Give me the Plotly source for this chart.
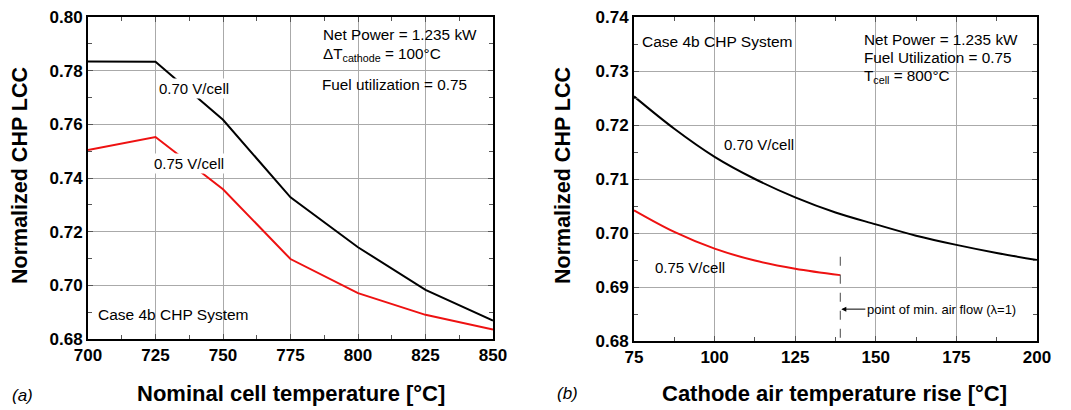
import plotly.graph_objects as go

# Panel (a)
temp_a = [700, 725, 750, 775, 800, 825, 850]
lcc_070_a = [0.7834, 0.7833, 0.7617, 0.7328, 0.7142, 0.6983, 0.6869]
lcc_075_a = [0.7504, 0.7553, 0.7358, 0.7098, 0.6971, 0.6890, 0.6835]

# Panel (b)
dt_b_070 = [75, 87.5, 100, 112.5, 125, 137.5, 150, 162.5, 175, 187.5, 200]
lcc_070_b = [0.7253, 0.7193, 0.7141, 0.7100, 0.7066, 0.7038, 0.7016, 0.6995, 0.6978, 0.6963, 0.6950]
dt_b_075 = [75, 87.5, 100, 112.5, 125, 139]
lcc_075_b = [0.7042, 0.7002, 0.6971, 0.6949, 0.6934, 0.6922]
min_air_dt = 139
min_air_top = 0.6956
min_air_arrow_y = 0.6859

xticks_a = [700, 725, 750, 775, 800, 825, 850]
yticks_a = [0.68, 0.70, 0.72, 0.74, 0.76, 0.78, 0.80]
xticks_b = [75, 100, 125, 150, 175, 200]
yticks_b = [0.68, 0.69, 0.70, 0.71, 0.72, 0.73, 0.74]

# page has an 8px body margin; size the figure so it fits the 1071x410 window
OFF = 8
W, H = 1071 - OFF, 410 - OFF
FONT = "Liberation Sans, Arial, sans-serif"

def px_x(p):
    return (p - OFF) / W

def px_y(p):
    return 1 - (p - OFF) / H

fig = go.Figure()
fig.add_trace(go.Scatter(x=temp_a, y=lcc_070_a, mode="lines", line=dict(color="black", width=2),
                         xaxis="x", yaxis="y", showlegend=False))
fig.add_trace(go.Scatter(x=temp_a, y=lcc_075_a, mode="lines", line=dict(color="#ee1111", width=2),
                         xaxis="x", yaxis="y", showlegend=False))
fig.add_trace(go.Scatter(x=dt_b_070, y=lcc_070_b, mode="lines", line=dict(color="black", width=2, shape="spline"),
                         xaxis="x2", yaxis="y2", showlegend=False))
fig.add_trace(go.Scatter(x=dt_b_075, y=lcc_075_b, mode="lines", line=dict(color="#ee1111", width=2, shape="spline"),
                         xaxis="x2", yaxis="y2", showlegend=False))
fig.add_trace(go.Scatter(x=[min_air_dt, min_air_dt], y=[min_air_top, yticks_b[0]], mode="lines",
                         line=dict(color="#666666", width=1.2, dash="dash"),
                         xaxis="x2", yaxis="y2", showlegend=False))

axis_common = dict(showline=True, linecolor="black", linewidth=2, mirror="allticks",
                   showgrid=True, gridcolor="#aaaaaa", gridwidth=1, zeroline=False,
                   ticks="inside", ticklen=5, tickcolor="#555555", automargin=False,
                   ticklabeloverflow="allow",
                   tickfont=dict(family=FONT, size=17, color="black", weight="bold"))

minor_x = dict(dtick=12.5, ticks="inside", ticklen=4, tickcolor="#555555", showgrid=False)

fig.update_layout(
    width=W, height=H, margin=dict(l=0, r=0, t=0, b=0),
    paper_bgcolor="white", plot_bgcolor="white",
    xaxis=dict(domain=[px_x(88), px_x(493)], range=[700, 850], tickvals=xticks_a,
               anchor="y", minor=minor_x, **axis_common),
    yaxis=dict(domain=[px_y(339), px_y(17)], range=[0.68, 0.80], tickvals=yticks_a, tickformat=".2f",
               anchor="x", minor=dict(dtick=0.01, ticks="inside", ticklen=4, tickcolor="#555555", showgrid=False),
               **axis_common),
    xaxis2=dict(domain=[px_x(634), px_x(1037)], range=[75, 200], tickvals=xticks_b,
                anchor="y2", minor=minor_x, **axis_common),
    yaxis2=dict(domain=[px_y(341), px_y(17)], range=[0.68, 0.74], tickvals=yticks_b, tickformat=".2f",
                anchor="x2", minor=dict(dtick=0.005, ticks="inside", ticklen=4, tickcolor="#555555", showgrid=False),
                **axis_common),
)

ann = []

def ptext(xp, yp, s, size=15.5, xanchor="left", **kw):
    ann.append(dict(x=px_x(xp), y=px_y(yp), xref="paper", yref="paper", text=s, showarrow=False,
                    xanchor=xanchor, yanchor="middle",
                    font=dict(family=FONT, size=size, color="black"), **kw))

# Panel (a) texts
ptext(321, 35, "Net Power = 1.235 kW", size=15.3)
ptext(321, 55, "ΔT<sub>cathode</sub> = 100°C", size=15.3)
ptext(320, 84, "Fuel utilization = 0.75", size=15.3)
ptext(96, 314, "Case 4b CHP System")
ptext(157, 88, "0.70 V/cell", size=15, bgcolor="white")
ptext(152, 163, "0.75 V/cell", size=15, bgcolor="white")

# Panel (b) texts
ptext(640, 42, "Case 4b CHP System")
ptext(862, 39, "Net Power = 1.235 kW", size=15.3)
ptext(862, 58, "Fuel Utilization = 0.75", size=15.3)
ptext(862, 77, "T<sub>cell</sub> = 800°C", size=15.3)
ptext(722, 144, "0.70 V/cell", size=15)
ptext(653, 267, "0.75 V/cell", size=15)

# Annotation with arrow pointing to the minimum air-flow line
ann.append(dict(x=min_air_dt, y=min_air_arrow_y, xref="x2", yref="y2",
                text="point of min. air flow (λ=1)", showarrow=True, ax=101, ay=0,
                arrowhead=2, arrowsize=1, arrowwidth=1, arrowcolor="black", standoff=1,
                font=dict(family=FONT, size=13, color="black")))

# Axis titles
ptext(291, 393, "<b>Nominal cell temperature [°C]</b>", size=22, xanchor="center")
ptext(834, 393, "<b>Cathode air temperature rise [°C]</b>", size=22, xanchor="center")
ptext(10, 395, "<i>(a)</i>", size=17)
ptext(555, 393, "<i>(b)</i>", size=17)
for xp in (20, 563):
    ann.append(dict(x=px_x(xp), y=px_y(176), xref="paper", yref="paper", text="<b>Normalized CHP LCC</b>",
                    showarrow=False, textangle=-90, xanchor="center", yanchor="middle",
                    font=dict(family=FONT, size=21.5, color="black")))

fig.update_layout(annotations=ann)
fig.write_html("out.html")
